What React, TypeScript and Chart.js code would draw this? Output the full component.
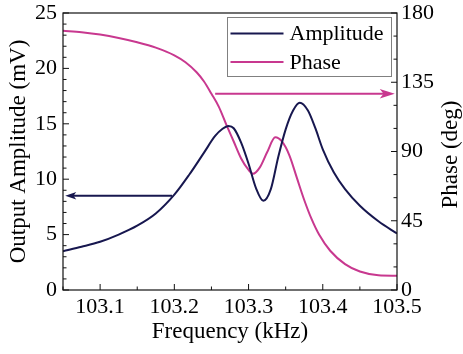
import React, { useEffect, useRef } from "react";
import { Chart, registerables } from "chart.js";

Chart.register(...registerables);

// ---- data ----
const ampFreq = [
  103.05, 103.075, 103.1, 103.125, 103.15, 103.175, 103.2, 103.22, 103.24, 103.255,
  103.265, 103.273, 103.28, 103.29, 103.3, 103.31, 103.32, 103.33, 103.34, 103.35,
  103.36, 103.369, 103.38, 103.39, 103.4, 103.415, 103.43, 103.45, 103.475, 103.5,
];
const ampValues = [
  3.5, 3.9, 4.35, 5.0, 5.8, 6.9, 8.6, 10.4, 12.4, 13.9,
  14.55, 14.8, 14.6, 13.3, 11.4, 9.2, 8.05, 9.1, 12.0, 14.5,
  16.2, 16.9, 16.2, 14.6, 12.7, 10.6, 9.1, 7.6, 6.2, 5.1,
];
const phaseFreq = [
  103.05, 103.075, 103.1, 103.125, 103.15, 103.175, 103.2, 103.215, 103.23, 103.24,
  103.25, 103.26, 103.27, 103.28, 103.29, 103.3, 103.306, 103.315, 103.325, 103.336,
  103.345, 103.355, 103.365, 103.375, 103.385, 103.395, 103.41, 103.43, 103.45, 103.475,
  103.5,
];
const phaseValues = [
  168.5, 167.5, 166, 163.8, 161, 157.5, 152.5, 148, 141.5, 135.5,
  127.5, 119, 107.5, 96.5, 85.5, 78, 75.5, 79.5, 89.5, 99.2,
  96.5, 87.5, 73, 58.5, 46, 36, 25.5, 16.8, 12, 9.6,
  9.3,
];
const xTickValues = [103.1, 103.2, 103.3, 103.4, 103.5];
const ampTickValues = [0, 5, 10, 15, 20, 25];
const phaseTickValues = [0, 45, 90, 135, 180];
const xMinorStep = 0.05;
const ampMinorStep = 1;
const phaseMinorStep = 15;
const xRange = [103.05, 103.5];
const ampRange = [0, 25];
const phaseRange = [0, 180];
const seriesLabels = ["Amplitude", "Phase"];
const ampArrow = { from: 103.197, to: 103.053, value: 8.5 };
const phaseArrow = { from: 103.255, to: 103.497, value: 127.5 };

const FONT = "'Liberation Serif', 'Times New Roman', Times, serif";
const NAVY = "#17174f";
const MAGENTA = "#c8388f";

function drawArrow(ctx: CanvasRenderingContext2D, x0: number, y: number, x1: number, color: string, headLen: number, headHalf: number) {
  const dir = x1 > x0 ? 1 : -1;
  ctx.strokeStyle = color;
  ctx.fillStyle = color;
  ctx.lineWidth = 2;
  ctx.beginPath();
  ctx.moveTo(x0, y);
  ctx.lineTo(x1 - dir * headLen * 0.6, y);
  ctx.stroke();
  ctx.beginPath();
  ctx.moveTo(x1, y);
  ctx.lineTo(x1 - dir * headLen, y - headHalf);
  ctx.lineTo(x1 - dir * headLen * 0.75, y);
  ctx.lineTo(x1 - dir * headLen, y + headHalf);
  ctx.closePath();
  ctx.fill();
}

const overlayPlugin = {
  id: "overlay",
  afterDatasetsDraw(chart: any) {
    const { ctx, chartArea: a, scales } = chart;
    const sx = scales.x, sy = scales.y, sy1 = scales.y1;
    ctx.save();
    drawArrow(ctx, sx.getPixelForValue(ampArrow.from), sy.getPixelForValue(ampArrow.value), sx.getPixelForValue(ampArrow.to), NAVY, 11, 3.8);
    drawArrow(ctx, sx.getPixelForValue(phaseArrow.from), sy1.getPixelForValue(phaseArrow.value), sx.getPixelForValue(phaseArrow.to), MAGENTA, 15, 4.8);

    ctx.strokeStyle = "#111";
    ctx.lineWidth = 1.2;
    ctx.strokeRect(a.left, a.top, a.right - a.left, a.bottom - a.top);

    ctx.lineWidth = 1;
    const major = 6, minor = 3.5;
    const tick = (x0: number, y0: number, x1: number, y1: number) => {
      ctx.beginPath();
      ctx.moveTo(x0, y0);
      ctx.lineTo(x1, y1);
      ctx.stroke();
    };
    for (let i = 0; ; i++) {
      const v = ampRange[0] + i * ampMinorStep;
      if (v > ampRange[1] + 1e-9) break;
      const p = sy.getPixelForValue(v);
      const isMajor = ampTickValues.some((t) => Math.abs(t - v) < 1e-6);
      tick(a.left, p, a.left + (isMajor ? major : minor), p);
    }
    for (let i = 0; ; i++) {
      const v = phaseRange[0] + i * phaseMinorStep;
      if (v > phaseRange[1] + 1e-9) break;
      const p = sy1.getPixelForValue(v);
      const isMajor = phaseTickValues.some((t) => Math.abs(t - v) < 1e-6);
      tick(a.right, p, a.right - (isMajor ? major : minor), p);
    }
    for (let i = 0; ; i++) {
      const v = xRange[0] + i * xMinorStep;
      if (v > xRange[1] + 1e-9) break;
      const p = sx.getPixelForValue(v);
      const isMajor = xTickValues.some((t) => Math.abs(t - v) < 1e-6);
      tick(p, a.bottom, p, a.bottom - (isMajor ? major : minor));
    }
    ctx.restore();
  },
  afterDraw(chart: any) {
    const { ctx, chartArea: a } = chart;
    ctx.save();
    ctx.fillStyle = "#000";
    ctx.font = `23px ${FONT}`;
    ctx.textAlign = "center";
    ctx.textBaseline = "middle";
    ctx.translate(451, (a.top + a.bottom) / 2 + 3);
    ctx.rotate(-Math.PI / 2);
    ctx.fillText("Phase (deg)", 0, 0);
    ctx.restore();

    ctx.save();
    const bw = 164, bh = 59;
    const bx = a.right - 5.5 - bw;
    const by = a.top + 4.5;
    ctx.fillStyle = "#fff";
    ctx.fillRect(bx, by, bw, bh);
    ctx.strokeStyle = "#808080";
    ctx.lineWidth = 1;
    ctx.strokeRect(bx, by, bw, bh);
    ctx.font = `22px ${FONT}`;
    ctx.textAlign = "left";
    ctx.textBaseline = "middle";
    chart.data.datasets.slice(0, 2).forEach((ds: any, i: number) => {
      const yy = by + 16 + i * 28.4;
      ctx.strokeStyle = ds.borderColor;
      ctx.lineWidth = 2;
      ctx.beginPath();
      ctx.moveTo(bx + 3, yy);
      ctx.lineTo(bx + 56, yy);
      ctx.stroke();
      ctx.fillStyle = "#000";
      ctx.fillText(ds.label, bx + 62, yy + 1);
    });
    ctx.restore();
  },
};

export default function App() {
  const canvasRef = useRef<HTMLCanvasElement | null>(null);

  useEffect(() => {
    const canvas = canvasRef.current;
    if (!canvas) return;
    let chart: Chart | null = null;
    let cancelled = false;
    const build = () => {
      if (cancelled) return;
      chart = new Chart(canvas, {
        type: "line",
        data: {
          datasets: [
            {
              label: seriesLabels[0],
              data: ampFreq.map((f, i) => ({ x: f, y: ampValues[i] })),
              yAxisID: "y",
              borderColor: NAVY,
              backgroundColor: NAVY,
              borderWidth: 2,
              pointRadius: 0,
              cubicInterpolationMode: "monotone",
              fill: false,
            },
            {
              label: seriesLabels[1],
              data: phaseFreq.map((f, i) => ({ x: f, y: phaseValues[i] })),
              yAxisID: "y1",
              borderColor: MAGENTA,
              backgroundColor: MAGENTA,
              borderWidth: 2,
              pointRadius: 0,
              cubicInterpolationMode: "monotone",
              fill: false,
            },
          ],
        },
        options: {
          animation: false,
          responsive: true,
          maintainAspectRatio: false,
          layout: { padding: { top: 13, left: 0, right: 0, bottom: 0 } },
          plugins: { legend: { display: false }, tooltip: { enabled: false } },
          scales: {
            x: {
              type: "linear",
              min: xRange[0],
              max: xRange[1],
              afterBuildTicks: (s: any) => {
                s.ticks = xTickValues.map((v) => ({ value: v }));
              },
              afterFit: (s: any) => {
                s.height = 64;
                s.paddingLeft = 0;
                s.paddingRight = 0;
              },
              grid: { display: false, drawTicks: false },
              border: { display: false },
              ticks: {
                font: { family: FONT, size: 22 },
                color: "#000",
                padding: 4,
                maxRotation: 0,
                autoSkip: false,
                callback: (v: any) => Number(v).toFixed(1),
              },
              title: {
                display: true,
                text: "Frequency (kHz)",
                font: { family: FONT, size: 23 },
                color: "#000",
                padding: { top: 0, bottom: 8 },
              },
            },
            y: {
              type: "linear",
              position: "left",
              min: ampRange[0],
              max: ampRange[1],
              afterBuildTicks: (s: any) => {
                s.ticks = ampTickValues.map((v) => ({ value: v }));
              },
              afterFit: (s: any) => {
                s.width = 63;
                s.paddingTop = 0;
                s.paddingBottom = 0;
              },
              grid: { display: false, drawTicks: false },
              border: { display: false },
              ticks: { font: { family: FONT, size: 22 }, color: "#000", padding: 6 },
              title: {
                display: true,
                text: "Output Amplitude (mV)",
                font: { family: FONT, size: 23 },
                color: "#000",
                padding: { top: 5, bottom: 0 },
              },
            },
            y1: {
              type: "linear",
              position: "right",
              min: phaseRange[0],
              max: phaseRange[1],
              afterBuildTicks: (s: any) => {
                s.ticks = phaseTickValues.map((v) => ({ value: v }));
              },
              afterFit: (s: any) => {
                s.width = 66;
                s.paddingTop = 0;
                s.paddingBottom = 0;
              },
              grid: { display: false, drawTicks: false },
              border: { display: false },
              ticks: { font: { family: FONT, size: 22 }, color: "#000", padding: 4 },
            },
          },
        } as any,
        plugins: [overlayPlugin],
      });
    };
    const fonts: any = (document as any).fonts;
    if (fonts && fonts.load) {
      Promise.all([
        fonts.load(`22px "Liberation Serif"`),
        fonts.load(`23px "Liberation Serif"`),
      ])
        .catch(() => undefined)
        .then(() => build());
    } else {
      build();
    }
    return () => {
      cancelled = true;
      if (chart) chart.destroy();
    };
  }, []);

  return (
    <div style={{ position: "fixed", left: 0, top: 0, width: 463, height: 354, background: "#fff" }}>
      <span style={{ fontFamily: "'Liberation Serif'", position: "absolute", visibility: "hidden" }}>0</span>
      <canvas ref={canvasRef} />
    </div>
  );
}
